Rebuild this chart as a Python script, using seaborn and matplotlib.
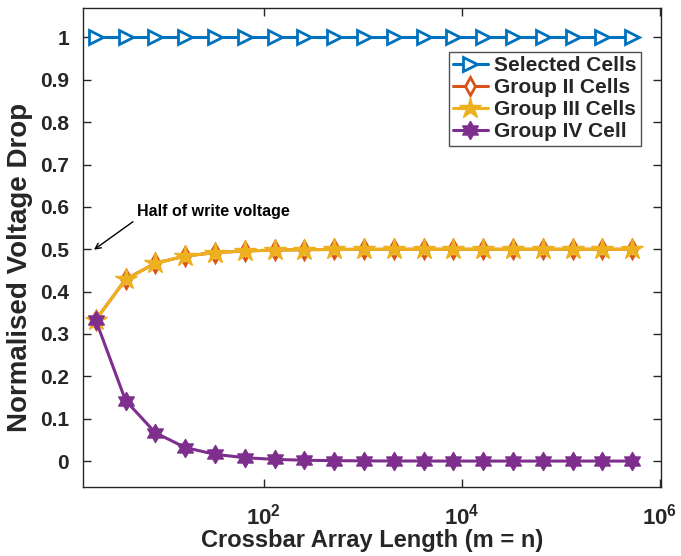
#!/usr/bin/env python3

import matplotlib

matplotlib.use("Agg")
import matplotlib.pyplot as plt
import numpy as np
import pandas
import seaborn as sns
from matplotlib.path import Path

# Crossbar sizes m = n (2^1 .. 2^19)
array_length = [2, 4, 8, 16, 32, 64, 128, 256, 512, 1024, 2048, 4096,
                8192, 16384, 32768, 65536, 131072, 262144, 524288]

selected_cells = [1.0] * 19
group_ii_cells = [0.333, 0.429, 0.467, 0.484, 0.492, 0.496, 0.498, 0.499,
                  0.4995, 0.4998, 0.4999, 0.5, 0.5, 0.5, 0.5, 0.5, 0.5, 0.5, 0.5]
group_iii_cells = [0.333, 0.429, 0.467, 0.484, 0.492, 0.496, 0.498, 0.499,
                   0.4995, 0.4998, 0.4999, 0.5, 0.5, 0.5, 0.5, 0.5, 0.5, 0.5, 0.5]
group_iv_cell = [0.333, 0.143, 0.067, 0.032, 0.016, 0.008, 0.004, 0.002,
                 0.001, 0.0005, 0.0002, 0.0001, 0.0, 0.0, 0.0, 0.0, 0.0, 0.0, 0.0]

series_names = ["Selected Cells", "Group II Cells", "Group III Cells", "Group IV Cell"]
x_tick_values = [1e2, 1e4, 1e6]
x_tick_labels = [r"$10^{2}$", r"$10^{4}$", r"$10^{6}$"]
y_tick_values = [0, 0.1, 0.2, 0.3, 0.4, 0.5, 0.6, 0.7, 0.8, 0.9, 1]
y_tick_labels = ["0", "0.1", "0.2", "0.3", "0.4", "0.5", "0.6", "0.7", "0.8", "0.9", "1"]

sns.set_style("ticks")
plt.rcParams["font.family"] = ["Liberation Sans", "DejaVu Sans"]
plt.rcParams["font.weight"] = "bold"
plt.rcParams["mathtext.fontset"] = "custom"
plt.rcParams["mathtext.rm"] = "Liberation Sans:bold"
plt.rcParams["mathtext.it"] = "Liberation Sans:bold"
plt.rcParams["mathtext.bf"] = "Liberation Sans:bold"


def hexagram():
    # six pointed star marker
    verts = []
    for k in range(12):
        ang = np.pi / 2 + k * np.pi / 6
        r = 1.0 if k % 2 == 0 else 0.58
        verts.append((r * np.cos(ang), r * np.sin(ang)))
    verts.append(verts[0])
    codes = [Path.MOVETO] + [Path.LINETO] * 11 + [Path.CLOSEPOLY]
    return Path(verts, codes)


df = pandas.DataFrame({
    "length": array_length * 4,
    "value": selected_cells + group_ii_cells + group_iii_cells + group_iv_cell,
    "series": np.repeat(series_names, len(array_length)),
})

colors = ["#0072BD", "#D95319", "#EDB120", "#7E2F8E"]
styles = [
    dict(marker=">", markersize=10, markerfacecolor="white", markeredgewidth=2),
    dict(marker="d", markersize=9, markerfacecolor="white", markeredgewidth=2),
    dict(marker="*", markersize=16, markeredgewidth=1),
    dict(marker=hexagram(), markersize=13, markeredgewidth=1),
]

fig, ax = plt.subplots(figsize=(6.81, 5.56), dpi=100)
for name, color, style in zip(series_names, colors, styles):
    sub = df[df.series == name]
    sns.lineplot(data=sub, x="length", y="value", ax=ax, color=color,
                 linewidth=2.2, label=name, markeredgecolor=color, **style)

ax.set_xscale("log")
ax.set_xlim(1.49, 1.03e6)
ax.set_ylim(-0.06, 1.07)
ax.set_xticks(x_tick_values)
ax.set_xticklabels(x_tick_labels)
ax.xaxis.set_minor_locator(matplotlib.ticker.NullLocator())
ax.set_yticks(y_tick_values)
ax.set_yticklabels(y_tick_labels)
ax.tick_params(direction="in", top=True, right=True, labelsize=15,
               length=6, width=1, colors="#262626", pad=10)
ax.tick_params(axis="x", labelsize=16, pad=12)
for lbl in ax.get_xticklabels() + ax.get_yticklabels():
    lbl.set_fontweight("bold")
for sp in ax.spines.values():
    sp.set_visible(True)
    sp.set_color("#262626")
    sp.set_linewidth(1)

ax.set_xlabel("Crossbar Array Length (m = n)", fontsize=17, fontweight="bold",
              color="#262626", labelpad=0)
ax.set_ylabel("Normalised Voltage Drop", fontsize=20, fontweight="bold",
              color="#262626")
ax.yaxis.set_label_coords(-0.086, 0.457)

ax.annotate("Half of write voltage", xy=(5.2, 0.589), fontsize=11.5,
            fontweight="bold", va="center", ha="left", color="black")
ax.annotate("", xy=(1.92, 0.499), xytext=(4.75, 0.565),
            arrowprops=dict(arrowstyle="->", color="black", lw=1,
                            shrinkA=0, shrinkB=0))

leg = ax.legend(loc="upper right", bbox_to_anchor=(0.965, 0.908), fontsize=15,
                frameon=True, fancybox=False, edgecolor="#262626",
                handlelength=1.7, borderpad=0.2, labelspacing=0.15,
                handletextpad=0.3, borderaxespad=0, numpoints=1)
leg.get_frame().set_linewidth(1)
for t in leg.get_texts():
    t.set_fontweight("bold")

fig.subplots_adjust(left=0.122, right=0.971, top=0.986, bottom=0.125)
fig.savefig("out.png", dpi=100)
